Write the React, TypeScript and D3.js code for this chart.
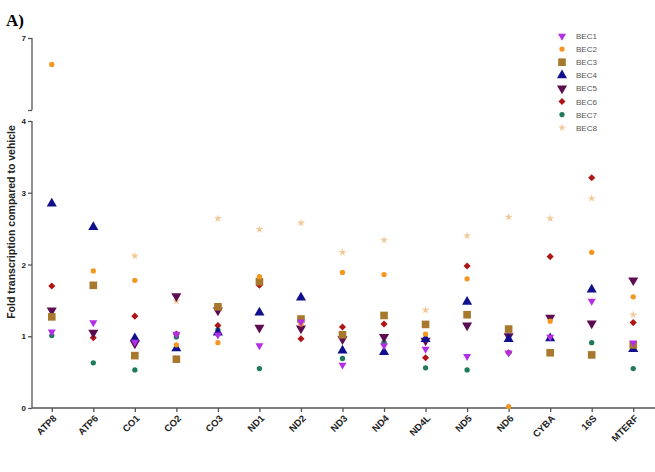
import React, { useEffect, useRef } from "react";
import * as d3 from "d3";

const genes = ["ATP8", "ATP6", "CO1", "CO2", "CO3", "ND1", "ND2", "ND3", "ND4", "ND4L", "ND5", "ND6", "CYBA", "16S", "MTERF"];

const bec1 = [1.06, 1.19, 0.92, 1.03, 1.02, 0.87, 1.2, 0.6, 0.87, 0.82, 0.72, 0.77, 0.99, 1.49, 0.91];
const bec2 = [5.9, 1.91, 1.78, 0.88, 0.91, 1.83, 1.17, 1.89, 1.86, 1.03, 1.8, 0.02, 1.21, 2.17, 1.55];
const bec3 = [1.27, 1.71, 0.73, 0.68, 1.41, 1.76, 1.24, 1.02, 1.29, 1.165, 1.3, 1.1, 0.77, 0.74, 0.88];
const bec4 = [2.85, 2.52, 0.97, 0.83, 1.05, 1.33, 1.54, 0.8, 0.78, 0.96, 1.48, 0.96, 0.97, 1.65, 0.82];
const bec5 = [1.36, 1.05, 0.9, 1.56, 1.36, 1.12, 1.11, 0.96, 0.99, 0.94, 1.15, 1.0, 1.26, 1.18, 1.78];
const bec6 = [1.7, 0.98, 1.28, 1.03, 1.15, 1.71, 0.965, 1.13, 1.17, 0.7, 1.98, 0.77, 2.11, 3.21, 1.19];
const bec7 = [1.01, 0.63, 0.53, 0.99, 1.09, 0.55, null, 0.69, 0.915, 0.56, 0.53, null, null, 0.91, 0.55];
const bec8 = [null, null, 2.12, 1.49, 2.64, 2.49, 2.58, 2.17, 2.34, 1.365, 2.4, 2.66, 2.64, 2.92, 1.3];

const lowTicks = [0, 1, 2, 3, 4];
const highTicks = [7];

type Series = { name: string; values: (number | null)[]; color: string; shape: d3.SymbolType; size: number; flip?: boolean };

const series: Series[] = [
  { name: "BEC1", values: bec1, color: "#b32fe6", shape: d3.symbolTriangle, size: 28, flip: true },
  { name: "BEC2", values: bec2, color: "#f5961e", shape: d3.symbolCircle, size: 22 },
  { name: "BEC3", values: bec3, color: "#a8782c", shape: d3.symbolSquare, size: 58 },
  { name: "BEC4", values: bec4, color: "#10108c", shape: d3.symbolTriangle, size: 44 },
  { name: "BEC5", values: bec5, color: "#5c0c50", shape: d3.symbolTriangle, size: 44, flip: true },
  { name: "BEC6", values: bec6, color: "#b01414", shape: d3.symbolDiamond2, size: 32 },
  { name: "BEC7", values: bec7, color: "#1f7a5c", shape: d3.symbolCircle, size: 22 },
  { name: "BEC8", values: bec8, color: "#f3c99a", shape: d3.symbolStar, size: 20 },
];

const App = () => {
  const svgRef = useRef<SVGSVGElement>(null);

  useEffect(() => {
    const width = 655;
    const height = 472;
    const axisX = 32;
    const font = "Arial, 'Liberation Sans', sans-serif";

    const svg = d3.select(svgRef.current).attr("width", width).attr("height", height);
    svg.selectAll("*").remove();

    const x = d3.scalePoint<string>().domain(genes).range([31, 654]).padding(0.5);
    const yLow = d3.scaleLinear().domain([0, 4]).range([408, 121]);
    const yHigh = d3.scaleLinear().domain([4, 7]).range([110, 38]);
    const y = (v: number) => (v > 4 ? yHigh(v) : yLow(v));

    // panel label
    svg.append("text").attr("x", 6).attr("y", 26)
      .attr("font-family", "'Liberation Serif', 'Times New Roman', serif")
      .attr("font-weight", "bold").attr("font-size", 17).text("A)");

    // lower y axis
    const gLow = svg.append("g").attr("transform", `translate(${axisX},0)`)
      .call(d3.axisLeft(yLow).tickValues(lowTicks).tickSize(4).tickPadding(2).tickFormat(d3.format("d")));
    // upper y axis segment (broken)
    const gHigh = svg.append("g").attr("transform", `translate(${axisX},0)`)
      .call(d3.axisLeft(yHigh).tickValues([4, ...highTicks]).tickSize(4).tickPadding(2)
        .tickFormat(d => (d === 4 ? "" : d3.format("d")(d as number))));
    for (const g of [gLow, gHigh]) {
      const r = (g === gLow ? yLow : yHigh).range();
      g.select(".domain").attr("d", `M0,${r[0]}V${r[1]}`);
      g.selectAll("path, line").attr("stroke", "#555").attr("stroke-width", 1.3);
      g.selectAll("text").attr("font-family", font).attr("font-weight", "bold").attr("font-size", 8).attr("fill", "#222");
    }

    // x axis
    const gx = svg.append("g").attr("transform", "translate(0,408)")
      .call(d3.axisBottom(x).tickSize(4).tickSizeOuter(0));
    gx.select(".domain").attr("d", `M${axisX},0H655`);
    gx.selectAll("path, line").attr("stroke", "#555").attr("stroke-width", 1.3);
    gx.selectAll("text")
      .attr("font-family", font).attr("font-weight", "bold").attr("font-size", 9.5).attr("fill", "#222")
      .attr("text-anchor", "end").attr("dy", 0).attr("y", 0)
      .attr("transform", "translate(5,11) rotate(-45)");

    // y axis title
    svg.append("text")
      .attr("transform", "translate(15,222) rotate(-90)")
      .attr("text-anchor", "middle")
      .attr("font-family", font).attr("font-weight", "bold").attr("font-size", 10.5).attr("fill", "#222")
      .text("Fold transcription compared to vehicle");

    // points, last series first so BEC1 sits on top
    [...series].reverse().forEach(s => {
      const pts = genes.map((g, i) => ({ g, v: s.values[i] })).filter(p => p.v !== null) as { g: string; v: number }[];
      svg.append("g").selectAll("path")
        .data(pts)
        .join("path")
        .attr("d", d3.symbol().type(s.shape).size(s.size)())
        .attr("transform", p => `translate(${x(p.g)},${y(p.v)})${s.flip ? " rotate(180)" : ""}`)
        .attr("fill", s.color);
    });

    // legend
    const legend = svg.append("g").attr("transform", "translate(562,36)");
    series.forEach((s, i) => {
      const row = legend.append("g").attr("transform", `translate(0,${i * 13.1})`);
      row.append("path")
        .attr("d", d3.symbol().type(s.shape).size(s.size)())
        .attr("transform", s.flip ? "rotate(180)" : null)
        .attr("fill", s.color);
      row.append("text").attr("x", 14).attr("y", 3)
        .attr("font-family", font).attr("font-size", 8).attr("fill", "#555")
        .text(s.name);
    });
  }, []);

  return <svg ref={svgRef} style={{ position: "absolute", left: 0, top: 0 }} />;
};

export default App;
